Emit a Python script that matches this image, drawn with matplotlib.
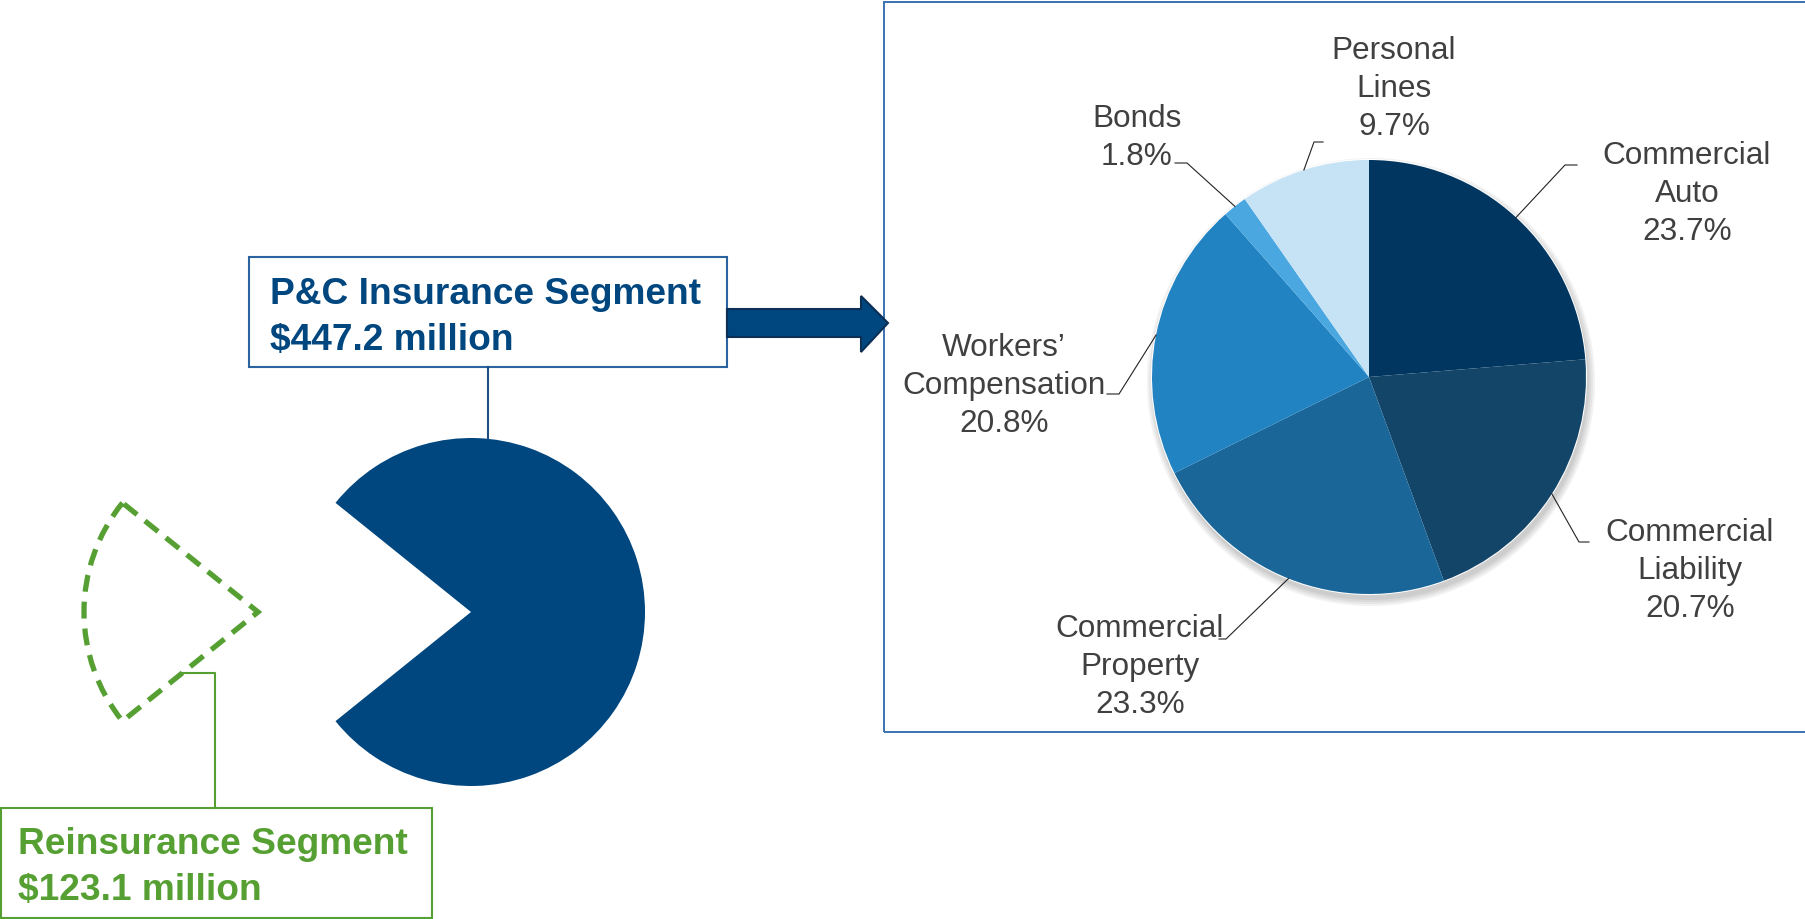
import matplotlib
import matplotlib.pyplot as plt
from matplotlib.patches import Rectangle, Polygon, Circle
import numpy as np

plt.rcParams['font.family'] = ['Liberation Sans', 'DejaVu Sans']

# ——— data ———
segment_names = ["P&C Insurance Segment", "Reinsurance Segment"]
segment_values = [447.2, 123.1]   # $ million

line_names = ["Commercial\nAuto", "Commercial\nLiability", "Commercial\nProperty",
              "Workers\u2019\nCompensation", "Bonds", "Personal\nLines"]
line_shares = [23.7, 20.7, 23.3, 20.8, 1.8, 9.7]   # %

# ——— colours ———
navy = "#00467F"
green = "#56A033"
line_colors = ["#00365F", "#134569", "#1A6699", "#2283C2", "#4BA7E0", "#C6E2F5"]
label_gray = "#404040"

W, H = 1806, 920
def Y(y):
    # pixel row (top = 0) -> data y
    return H - y

fig = plt.figure(figsize=(W / 100, H / 100), dpi=100)
ax = fig.add_axes([0, 0, 1, 1])

# ——— left pie (pac-man + exploded reinsurance wedge) ———
rein_angle = 360 * segment_values[1] / sum(segment_values)
left_r = 174
left_c = (471, Y(613))
w_left, _ = ax.pie(segment_values, colors=[navy, "none"], radius=left_r, center=left_c,
                   startangle=180 + rein_angle / 2, explode=[0, 213])
w_left[1].set(facecolor="none", edgecolor=green, linewidth=3.8,
              linestyle=(0, (3.2, 1.9)), capstyle="butt", joinstyle="miter")

# ——— right pie (P&C lines of business) ———
rc = (1369, 378)
rr = 217
for k, a in enumerate([0.05, 0.05, 0.05, 0.05]):
    ax.add_patch(Circle((rc[0] + 2, Y(rc[1] + 5)), rr + 1 + 2 * k, color="#000000",
                        alpha=a, lw=0, zorder=0.5))
ax.add_patch(Circle((rc[0], Y(rc[1])), rr + 1, color="white", lw=0, zorder=0.6))
ax.pie(line_shares, colors=line_colors, radius=rr, center=(rc[0], Y(rc[1])),
       startangle=90, counterclock=False, wedgeprops=dict(linewidth=0))

# labels: (text x, last baseline y, elbow x, elbow y, end x)
label_pos = [
    (1687, 240, 1565, 166, 1577),
    (1690, 617, 1579, 543, 1589),
    (1140, 713, 1226, 640, 1219),
    (1004, 432, 1119, 395, 1107),
    (1137, 165, 1187, 164, 1175),
    (1394, 135, 1314, 143, 1323),
]
cum = np.cumsum([0] + line_shares[:-1])
for name, share, c0, (tx, ty, ex, ey, endx) in zip(line_names, line_shares, cum, label_pos):
    mid = np.deg2rad(90 - 3.6 * (c0 + share / 2))
    axp = rc[0] + rr * np.cos(mid)
    ayp = rc[1] - rr * np.sin(mid)
    ax.plot([axp, ex, endx], [Y(ayp), Y(ey), Y(ey)], color="#222222", lw=0.8, zorder=3)
    ax.text(tx, Y(ty), f"{name}\n{share:.1f}%", ha="center", va="baseline",
            fontsize=22.7, color=label_gray, linespacing=1.34, zorder=4)

# right panel frame
ax.add_patch(Rectangle((884, Y(733)), 1000, 730, fill=False, edgecolor="#3B72B2", lw=1.4))

# ——— P&C box, connector and arrow ———
ax.add_patch(Rectangle((249, Y(368)), 478, 110, fill=False, edgecolor="#2A63A0", lw=1.5))
ax.text(270, Y(350), f"{segment_names[0]}\n\\${segment_values[0]:.1f} million",
        ha="left", va="baseline", fontsize=26.7, fontweight="bold", color=navy,
        linespacing=1.42)
ax.plot([488, 488], [Y(368), Y(439)], color="#1F4E80", lw=1.5)
arrow = [(727, 310), (861, 310), (861, 297), (888, 324), (861, 353), (861, 338), (727, 338)]
ax.add_patch(Polygon([(x, Y(y)) for x, y in arrow], closed=True, facecolor=navy,
                     edgecolor="#0B2F55", lw=1.5))

# ——— reinsurance box and connector ———
ax.add_patch(Rectangle((1, Y(919)), 431, 110, fill=False, edgecolor=green, lw=1.5))
ax.text(18, Y(900), f"{segment_names[1]}\n\\${segment_values[1]:.1f} million",
        ha="left", va="baseline", fontsize=26.7, fontweight="bold", color=green,
        linespacing=1.42)
ax.plot([183, 215, 215], [Y(674), Y(674), Y(809)], color=green, lw=1.5)

ax.set_xlim(0, W)
ax.set_ylim(0, H)
ax.set_aspect("auto")
ax.axis("off")

plt.savefig("out.png", dpi=100)
plt.close()
